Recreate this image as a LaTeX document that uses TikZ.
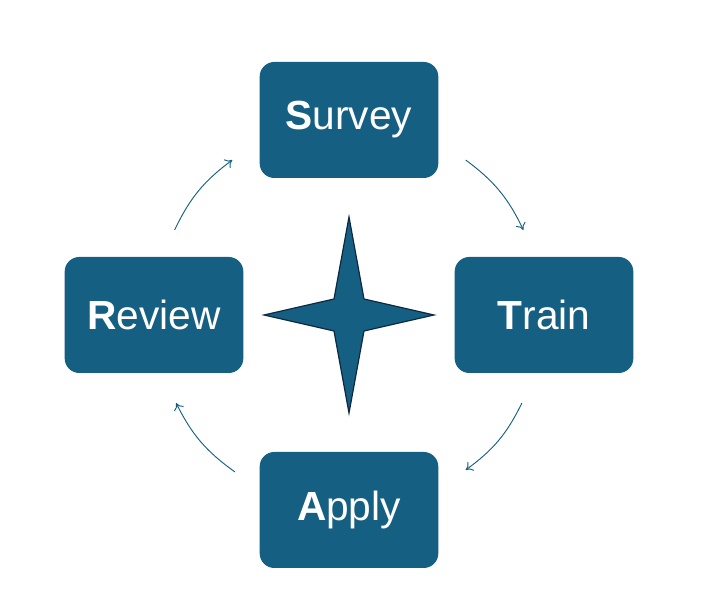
\documentclass[tikz,border=0pt]{standalone}
\usepackage{fontspec}
\setmainfont{Liberation Sans}
\usetikzlibrary{arrows.meta}
\definecolor{tealblue}{HTML}{156082}
\definecolor{starline}{HTML}{0E2841}

\begin{document}
\begin{tikzpicture} [
    x=0.75pt, y=0.75pt,
    node distance=146.25pt,
  ]

  \tikzstyle{stage} = [
    rectangle,
    rounded corners=11pt,
    minimum width=134pt,
    minimum height=87pt,
    fill=tealblue,
    text=white,
    font=\fontsize{30.5}{36}\selectfont,
  ]
  \tikzstyle{hubstar} = [
    fill=tealblue,
    draw=starline,
    line width=0.9pt,
  ]
  \tikzstyle{cyc} = [
    -{To[length=5pt,width=8pt]},
    draw=tealblue,
    line width=0.7pt,
  ]

  \useasboundingbox (0,0) rectangle (715,598);

  \coordinate (hub) at (349,283);

  \node[stage,above of=hub]  (survey) {{\bfseries S}urvey};
  \node[stage,right of=hub]  (train)  {{\bfseries T}rain};
  \node[stage,below of=hub]  (apply)  {{\bfseries A}pply};
  \node[stage,left of=hub]   (review) {{\bfseries R}eview};

  % four-point star in the middle
  \draw[hubstar, shift={(hub)}]
    (0,98) -- (15,16) -- (85,0) -- (15,-16) -- (0,-98)
    -- (-15,-16) -- (-85,0) -- (-15,16) -- cycle;

  % ends of the cycle arrows, on a circle round the hub
  \coordinate (rs1) at ([shift={(154:194)}]hub);
  \coordinate (rs2) at ([shift={(127:194)}]hub);
  \coordinate (st1) at ([shift={(53:194)}]hub);
  \coordinate (st2) at ([shift={(26:194)}]hub);
  \coordinate (ta1) at ([shift={(-27:194)}]hub);
  \coordinate (ta2) at ([shift={(-53:194)}]hub);
  \coordinate (ar1) at ([shift={(-126:194)}]hub);
  \coordinate (ar2) at ([shift={(-153:194)}]hub);

  \draw[cyc] (rs1) to[bend left=14] (rs2);
  \draw[cyc] (st1) to[bend left=14] (st2);
  \draw[cyc] (ta1) to[bend left=14] (ta2);
  \draw[cyc] (ar1) to[bend left=14] (ar2);

\end{tikzpicture}
\end{document}
